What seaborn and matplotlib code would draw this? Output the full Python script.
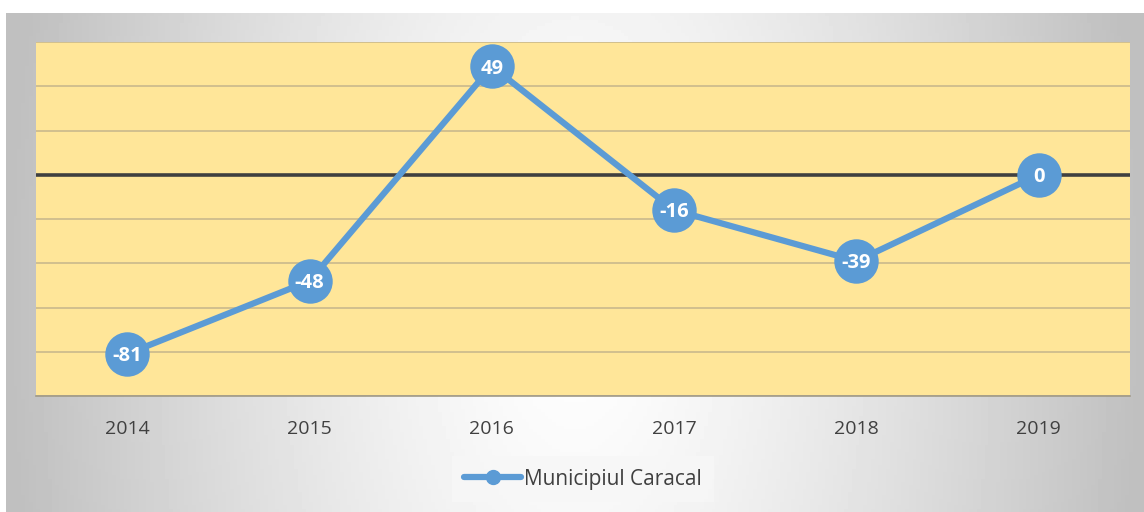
import numpy as np
import pandas as pd
import matplotlib.pyplot as plt
import seaborn as sb

# values
years = ['2014', '2015', '2016', '2017', '2018', '2019']
values = [-81, -48, 49, -16, -39, 0]
series_name = 'Municipiul Caracal'

data = pd.DataFrame({'year': years, 'value': values, 'series': series_name})

sb.set_style('white')
plt.rcParams['font.family'] = ['Open Sans', 'DejaVu Sans']

blue = '#5B9BD5'
W, H = 1144, 512
fig = plt.figure(figsize=(W / 100, H / 100), dpi=100)

# grey gradient behind the chart, light in the middle, grey at the sides
bg = fig.add_axes([6 / W, 0, 1 - 6 / W, 1 - 13 / H])
gx, gy = np.meshgrid(np.linspace(6, W, 300), np.linspace(13, H, 150))
dist = np.sqrt(((gx - 575) / 570) ** 2 + ((gy - 300) / 1100) ** 2)
shade = 1.0 - 0.25 * np.clip(dist, 0, 1) ** 1.3
bg.imshow(shade, cmap='gray', vmin=0, vmax=1, aspect='auto', extent=[0, 1, 0, 1], origin='upper')
bg.set_axis_off()

ax = fig.add_axes([36 / W, 1 - 396 / H, (1130 - 36) / W, (396 - 42) / H])
ax.set_facecolor('#FFE699')

sb.lineplot(data=data, x='year', y='value', ax=ax, color=blue, linewidth=4.5,
            marker='o', markersize=32, markeredgewidth=0, sort=False, legend=False)

ax.set_ylim(-100, 60)
ax.set_xlim(-0.5, len(years) - 0.5)
ax.set_yticks(range(-100, 61, 20))
ax.yaxis.grid(True, color='#C9B98C', linewidth=1.2)
ax.set_axisbelow(True)
ax.axhline(0, color='#404040', linewidth=2.6, zorder=1.5)
ax.tick_params(axis='y', left=False, labelleft=False)
ax.tick_params(axis='x', bottom=False, labelsize=14, labelcolor='#404040', pad=14)
ax.set_xlabel('')
ax.set_ylabel('')
for side in ['top', 'left', 'right']:
    ax.spines[side].set_visible(False)
ax.spines['bottom'].set_color('#A09A88')
ax.spines['bottom'].set_linewidth(1.2)

for i, v in enumerate(values):
    ax.text(i, v - 1, str(v), ha='center', va='center', color='white',
            fontsize=14.5, fontweight='bold', zorder=5)

# legend box at the bottom
handle = plt.Line2D([], [], color=blue, linewidth=4.5, marker='o', markersize=10)
leg = fig.legend([handle], [series_name], loc='center', bbox_to_anchor=(583 / W, 1 - 479 / H),
                 frameon=True, fontsize=15, handlelength=2.7, handletextpad=0.15,
                 borderpad=0.6, borderaxespad=0, fancybox=False)
leg.get_frame().set_facecolor('#F7F7F7')
leg.get_frame().set_edgecolor('none')
for t in leg.get_texts():
    t.set_color('#404040')

plt.savefig('out.png', dpi=100)
